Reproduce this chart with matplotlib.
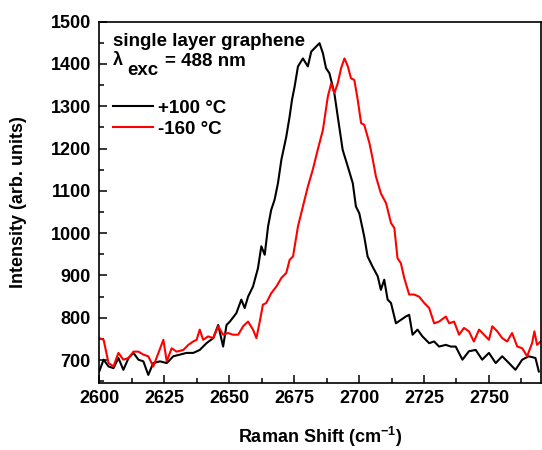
import matplotlib
matplotlib.use("Agg")
import matplotlib.pyplot as plt
from matplotlib.ticker import MultipleLocator

plt.rcParams['font.family'] = ['Liberation Sans', 'DejaVu Sans']
plt.rcParams['font.weight'] = 'bold'
plt.rcParams['mathtext.fontset'] = 'custom'
plt.rcParams['mathtext.rm'] = 'Liberation Sans:bold'
plt.rcParams['mathtext.bf'] = 'Liberation Sans:bold'
plt.rcParams['mathtext.it'] = 'Liberation Sans:bold'

# spectrum at +100 C
x_hot = [2600.0, 2601.7, 2603.6, 2605.5, 2607.4, 2609.3, 2611.3, 2613.2, 2615.1, 2617.0,
         2618.9, 2620.8, 2623.4, 2626.0, 2628.5, 2631.1, 2633.6, 2636.2, 2638.7, 2641.3,
         2643.9, 2645.8, 2647.7, 2649.0, 2650.3, 2652.8, 2654.7, 2656.0, 2657.3, 2659.2,
         2661.1, 2662.4, 2663.7, 2665.0, 2666.2, 2667.5, 2668.8, 2670.1, 2672.0, 2673.3,
         2674.2, 2675.2, 2676.5, 2678.4, 2680.3, 2681.6, 2683.5, 2684.8, 2686.1, 2687.3,
         2688.6, 2690.5, 2691.8, 2693.7, 2695.7, 2697.6, 2698.8, 2700.1, 2702.0, 2703.3,
         2705.2, 2707.2, 2708.4, 2709.7, 2711.0, 2712.3, 2714.2, 2716.1, 2718.0, 2719.3,
         2720.6, 2722.5, 2724.4, 2727.0, 2728.9, 2730.8, 2733.4, 2735.3, 2737.2, 2739.8,
         2742.3, 2744.9, 2747.4, 2750.0, 2752.6, 2755.1, 2757.7, 2760.2, 2762.8, 2765.3,
         2767.9, 2769.2]
y_hot = [673, 701, 685, 681, 705, 677, 705, 717, 701, 697,
         665, 693, 697, 693, 709, 713, 717, 717, 724, 740,
         752, 783, 732, 783, 791, 811, 843, 823, 850, 874,
         917, 969, 949, 1016, 1055, 1079, 1118, 1173, 1228, 1276,
         1315, 1346, 1394, 1413, 1394, 1429, 1441, 1449, 1425, 1390,
         1378, 1331, 1276, 1197, 1157, 1118, 1063, 1047, 992, 945,
         921, 898, 866, 890, 843, 835, 787, 795, 803, 807,
         760, 772, 756, 740, 744, 732, 736, 732, 732, 701,
         721, 724, 701, 717, 693, 709, 693, 677, 701, 709,
         705, 673]

# spectrum at -160 C
x_cold = [2600.0, 2601.7, 2603.6, 2605.5, 2607.4, 2609.3, 2611.3, 2613.2, 2615.1, 2617.0,
          2618.9, 2620.8, 2622.8, 2624.7, 2626.0, 2627.9, 2629.8, 2632.4, 2634.3, 2636.2,
          2637.5, 2638.7, 2640.0, 2641.9, 2643.9, 2645.8, 2647.7, 2649.6, 2651.5, 2653.5,
          2655.4, 2657.3, 2659.2, 2660.5, 2661.8, 2663.0, 2664.3, 2666.2, 2668.2, 2670.1,
          2672.0, 2673.3, 2674.6, 2676.5, 2678.4, 2680.3, 2682.2, 2684.1, 2686.1, 2688.0,
          2689.3, 2690.5, 2691.8, 2693.1, 2694.4, 2695.7, 2696.9, 2698.2, 2699.5, 2700.8,
          2702.0, 2704.0, 2705.2, 2706.5, 2708.4, 2710.4, 2712.3, 2713.6, 2714.8, 2716.1,
          2717.4, 2719.3, 2721.2, 2723.1, 2725.1, 2727.0, 2728.9, 2730.8, 2733.4, 2734.7,
          2736.6, 2738.5, 2740.4, 2742.3, 2744.2, 2746.2, 2748.1, 2750.0, 2751.3, 2753.2,
          2755.1, 2757.0, 2758.9, 2760.9, 2762.8, 2764.7, 2766.6, 2767.5, 2768.5, 2769.9]
y_cold = [752, 748, 693, 685, 717, 701, 705, 720, 720, 713,
          709, 685, 717, 748, 697, 728, 720, 724, 736, 744,
          748, 772, 748, 756, 752, 780, 760, 764, 760, 760,
          780, 791, 772, 752, 791, 831, 835, 858, 874, 894,
          906, 937, 945, 1016, 1063, 1110, 1150, 1197, 1244, 1323,
          1354, 1331, 1354, 1390, 1413, 1394, 1366, 1362, 1315, 1260,
          1256, 1213, 1177, 1134, 1094, 1071, 1024, 1012, 941, 929,
          894, 855, 855, 850, 835, 823, 787, 791, 803, 787,
          791, 760, 776, 768, 744, 772, 760, 748, 780, 768,
          752, 744, 764, 732, 728, 709, 740, 768, 736, 744]

fig = plt.figure(figsize=(5.42, 4.5), dpi=100)
ax = fig.add_axes([0.183, 0.149, 0.815, 0.803])

ax.plot(x_hot, y_hot, color='black', lw=1.5, label='+100 \u00b0C')
ax.plot(x_cold, y_cold, color='#ff0000', lw=1.5, label='-160 \u00b0C')

ax.set_xlim(2600, 2770)
ax.set_ylim(646, 1500)
ax.xaxis.set_major_locator(MultipleLocator(25))
ax.xaxis.set_minor_locator(MultipleLocator(12.5))
ax.yaxis.set_major_locator(MultipleLocator(100))
ax.yaxis.set_minor_locator(MultipleLocator(50))
ax.tick_params(which='both', direction='in', top=False, right=False, labelsize=13, width=1.1)
ax.tick_params(axis='y', pad=6)
ax.tick_params(axis='x', pad=5)
ax.tick_params(which='major', length=6)
ax.tick_params(which='minor', length=3.5)
for s in ax.spines.values():
    s.set_linewidth(1.2)

ax.set_xlabel('Raman Shift (cm$^{-1}$)', fontsize=13, fontweight='bold', labelpad=13)
ax.set_ylabel('Intensity (arb. units)', fontsize=13, fontweight='bold', labelpad=17)

ax.text(0.032, 0.946, 'single layer graphene', transform=ax.transAxes, fontsize=13.5,
        fontweight='bold', va='center')
ax.text(0.032, 0.893, '\u03bb', transform=ax.transAxes, fontsize=13, va='center')
ax.text(0.063, 0.865, 'exc', transform=ax.transAxes, fontsize=13.5,
        fontweight='bold', va='center')
ax.text(0.148, 0.889, '= 488 nm', transform=ax.transAxes, fontsize=13.5,
        fontweight='bold', va='center')

ax.legend(loc='upper left', bbox_to_anchor=(0.032, 0.784), frameon=False, fontsize=13.5,
          handlelength=2.1, handletextpad=0.3, labelspacing=0.2, borderpad=0,
          borderaxespad=0)

fig.savefig('out.png', dpi=100)
